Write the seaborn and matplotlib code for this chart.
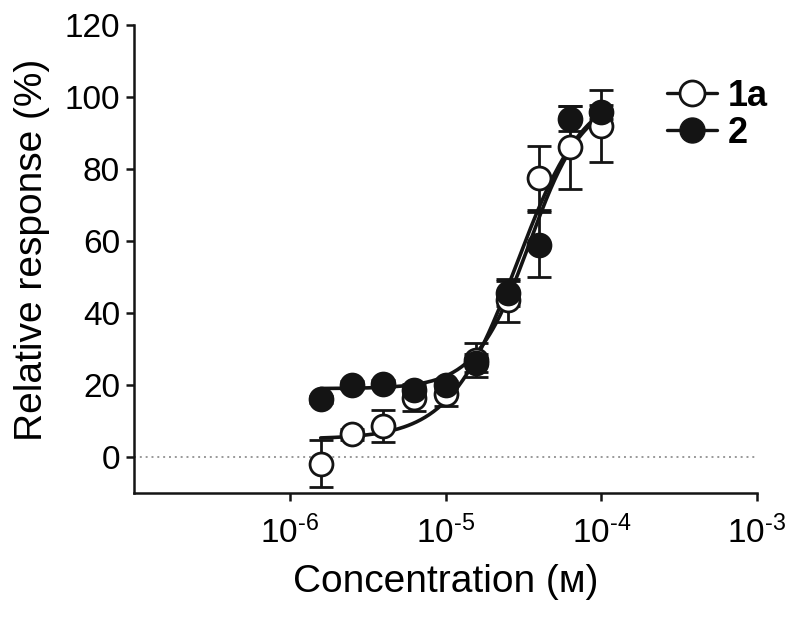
import numpy as np
import pandas as pd
import matplotlib
matplotlib.use('Agg')
import matplotlib.pyplot as plt
from matplotlib.lines import Line2D
import seaborn as sns

# concentrations (M)
conc = [1.58e-6, 2.51e-6, 3.98e-6, 6.31e-6, 1.0e-5, 1.58e-5, 2.51e-5, 3.98e-5, 6.31e-5, 1.0e-4]

# compound 1a (open circles)
resp_1a = [-1.9, 6.3, 8.6, 16.5, 17.4, 27.0, 43.5, 77.5, 86.0, 92.0]
err_1a = [6.5, 1.5, 4.5, 3.7, 3.2, 4.8, 6.0, 9.0, 11.5, 10.0]

# compound 2 (filled circles)
resp_2 = [16.0, 20.0, 20.4, 18.5, 20.1, 26.0, 45.5, 59.0, 94.0, 95.8]
err_2 = [1.0, 1.0, 1.0, 1.0, 1.0, 2.5, 3.5, 9.0, 3.5, 2.0]

# Hill fit parameters: bottom, top, logEC50, hill slope
fit_1a = (5.0, 103.0, -4.54, 2.0)
fit_2 = (19.0, 100.0, -4.46, 2.5)

x_ticks = [1e-6, 1e-5, 1e-4, 1e-3]
x_ticklabels = ['10$^{\\text{-}6}$', '10$^{\\text{-}5}$', '10$^{\\text{-}4}$', '10$^{\\text{-}3}$']


def hill(logx, bottom, top, logec50, h):
    return bottom + (top - bottom) / (1 + 10 ** ((logec50 - logx) * h))


sns.set_theme(style='ticks')
plt.rcParams['font.family'] = ['Liberation Sans', 'DejaVu Sans']
plt.rcParams['mathtext.fontset'] = 'custom'
plt.rcParams['mathtext.rm'] = 'Liberation Sans'
plt.rcParams['mathtext.default'] = 'regular'
plt.rcParams['text.color'] = 'black'
plt.rcParams['axes.labelcolor'] = 'black'
plt.rcParams['xtick.color'] = 'black'
plt.rcParams['ytick.color'] = 'black'

ink = '#141414'

fig = plt.figure(figsize=(8, 6.18), dpi=100)
ax = fig.add_axes([0.1675, 0.2023, 0.7788, 0.7572])

logx = np.linspace(np.log10(conc[0]), np.log10(conc[-1]), 200)
curves = pd.concat([
    pd.DataFrame({'x': 10 ** logx, 'y': hill(logx, *fit_1a), 'cmpd': '1a'}),
    pd.DataFrame({'x': 10 ** logx, 'y': hill(logx, *fit_2), 'cmpd': '2'}),
])
sns.lineplot(data=curves, x='x', y='y', units='cmpd', estimator=None,
             color=ink, lw=2.6, ax=ax, zorder=3)

ax.axhline(0, color='#999999', ls=(0, (1, 2)), lw=1.4, zorder=1)

ax.errorbar(conc, resp_1a, yerr=err_1a, fmt='none', ecolor=ink,
            elinewidth=2, capsize=8.5, capthick=2, zorder=4)
ax.errorbar(conc, resp_2, yerr=err_2, fmt='none', ecolor=ink,
            elinewidth=2, capsize=8.5, capthick=2, zorder=4)

ax.plot(conc, resp_1a, 'o', ms=16.5, mfc='white', mec=ink, mew=2, zorder=5)
ax.plot(conc, resp_2, 'o', ms=16.5, mfc=ink, mec=ink, mew=2, zorder=6)

ax.set_xscale('log')
ax.set_xlim(1e-7, 1e-3)
ax.set_ylim(-10, 120)
ax.set_xticks(x_ticks)
ax.set_xticklabels(x_ticklabels)
ax.minorticks_off()
ax.set_yticks([0, 20, 40, 60, 80, 100, 120])

sns.despine(ax=ax)
for s in ['left', 'bottom']:
    ax.spines[s].set_linewidth(1.8)
    ax.spines[s].set_color(ink)
ax.tick_params(width=1.8, length=6, labelsize=24, color=ink)
ax.tick_params(axis='x', pad=10)
ax.tick_params(axis='y', pad=4)

ax.set_xlabel('Concentration (ᴍ)', fontsize=28, labelpad=10)
ax.set_ylabel('Relative response (%)', fontsize=28, labelpad=10)
ax.yaxis.set_label_coords(-0.135, 0.52)

handles = [
    Line2D([], [], color=ink, lw=2.4, marker='o', ms=18, mfc='white', mec=ink, mew=2),
    Line2D([], [], color=ink, lw=2.4, marker='o', ms=18, mfc=ink, mec=ink),
]
ax.legend(handles, ['1a', '2'], loc='upper left', bbox_to_anchor=(0.832, 0.916),
          frameon=False, prop={'weight': 'bold', 'size': 26}, handlelength=1.4,
          handletextpad=0.3, labelspacing=0.05, borderaxespad=0)

fig.savefig('out.png', dpi=100)
